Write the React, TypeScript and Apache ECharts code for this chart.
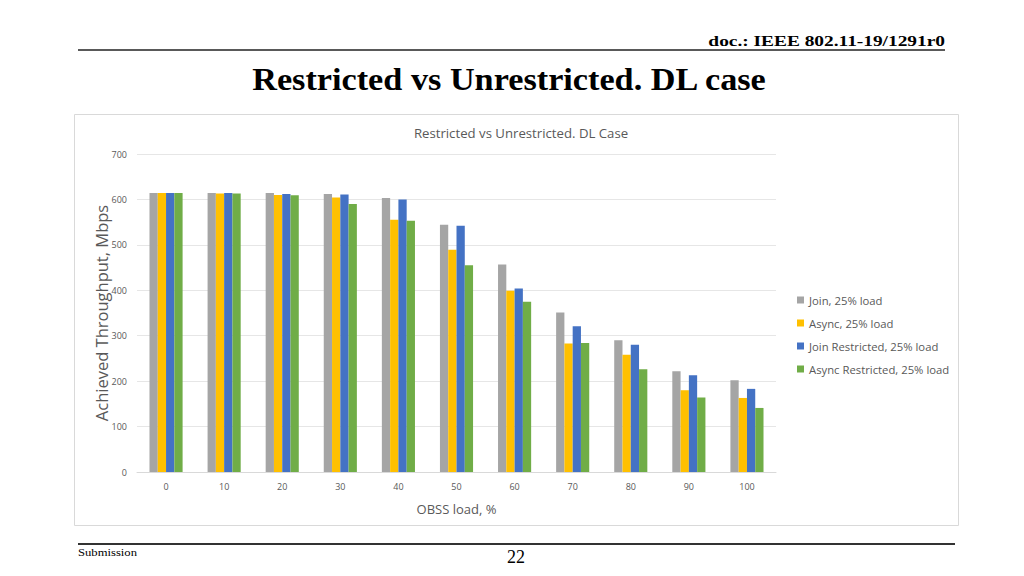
import React, { useEffect, useRef } from "react";
import * as echarts from "echarts";

const categories = ["0", "10", "20", "30", "40", "50", "60", "70", "80", "90", "100"];
const joinLoad = [614, 614, 614, 612, 603, 544, 457, 351, 290, 222, 202];
const asyncLoad = [614, 613, 610, 604, 555, 489, 399, 283, 258, 180, 163];
const joinRestricted = [614, 614, 612, 611, 600, 542, 404, 321, 280, 213, 183];
const asyncRestricted = [614, 613, 609, 590, 553, 455, 375, 284, 226, 164, 141];
const seriesNames = ["Join, 25% load", "Async, 25% load", "Join Restricted, 25% load", "Async Restricted, 25% load"];
const seriesColors = ["#A5A5A5", "#FFC000", "#4472C4", "#70AD47"];

export default function App() {
  const ref = useRef<HTMLDivElement>(null);
  useEffect(() => {
    if (!ref.current) return;
    const chart = echarts.init(ref.current, null, { renderer: "svg" });
    const font = "Open Sans";
    const data = [joinLoad, asyncLoad, joinRestricted, asyncRestricted];
    chart.setOption({
      animation: false,
      backgroundColor: "#ffffff",
      title: {
        text: "Restricted vs Unrestricted. DL Case",
        left: 516,
        top: 121,
        textAlign: "center",
        textStyle: { fontFamily: font, fontSize: 13.2, fontWeight: "normal", color: "#595959" },
      },
      legend: {
        orient: "vertical",
        left: 792,
        top: 288,
        itemGap: 9,
        itemWidth: 7,
        itemHeight: 7,
        icon: "rect",
        data: seriesNames,
        textStyle: { fontFamily: font, fontSize: 11.3, lineHeight: 14, color: "#595959", padding: [0, 0, 0, 0] },
      },
      grid: { left: 137, right: 248, top: 154, bottom: 104 },
      xAxis: {
        type: "category",
        data: categories,
        name: "OBSS load, %",
        nameLocation: "middle",
        nameGap: 30,
        nameTextStyle: { fontFamily: font, fontSize: 13, color: "#595959" },
        axisLine: { lineStyle: { color: "#d9d9d9" } },
        axisTick: { show: false },
        axisLabel: { fontFamily: font, fontSize: 9, color: "#595959", margin: 10 },
      },
      yAxis: {
        type: "value",
        min: 0,
        max: 700,
        interval: 100,
        name: "Achieved Throughput, Mbps",
        nameLocation: "middle",
        nameGap: 27,
        nameMoveOverlap: false,
        nameTextStyle: { fontFamily: font, fontSize: 16.5, color: "#595959" },
        axisLine: { show: false },
        axisTick: { show: false },
        axisLabel: { fontFamily: font, fontSize: 9, color: "#595959", margin: 10 },
        splitLine: { lineStyle: { color: "#e6e6e6" } },
      },
      series: seriesNames.map((name, i) => ({
        name,
        type: "bar",
        data: data[i],
        barGap: "0%",
        barCategoryGap: "43%",
        itemStyle: { color: seriesColors[i] },
      })),
      graphic: [
        {
          type: "rect",
          shape: { x: 74.5, y: 114.5, width: 884, height: 411 },
          style: { fill: "none", stroke: "#d9d9d9", lineWidth: 1 },
          z: -1,
        },
        {
          type: "text",
          x: 945,
          y: 41,
          scaleX: 1.25,
          style: {
            text: "doc.: IEEE 802.11-19/1291r0",
            fontFamily: "Liberation Serif",
            fontWeight: "bold",
            fontSize: 15.5,
            fill: "#000",
            align: "right",
            verticalAlign: "middle",
          },
        },
        {
          type: "line",
          shape: { x1: 78, y1: 50, x2: 945, y2: 50 },
          style: { stroke: "#222", lineWidth: 1.5 },
        },
        {
          type: "text",
          x: 509,
          y: 79,
          scaleX: 1.07,
          style: {
            text: "Restricted vs Unrestricted. DL case",
            fontFamily: "Liberation Serif",
            fontWeight: "bold",
            fontSize: 32,
            fill: "#000",
            align: "center",
            verticalAlign: "middle",
          },
        },
        {
          type: "line",
          shape: { x1: 78, y1: 544, x2: 955, y2: 544 },
          style: { stroke: "#333", lineWidth: 2 },
        },
        {
          type: "text",
          x: 78,
          y: 552,
          scaleX: 1.15,
          style: {
            text: "Submission",
            fontFamily: "Liberation Serif",
            fontSize: 11,
            fill: "#000",
            align: "left",
            verticalAlign: "middle",
          },
        },
        {
          type: "text",
          x: 516,
          y: 557,
          style: {
            text: "22",
            fontFamily: "Liberation Serif",
            fontSize: 18,
            fill: "#000",
            align: "center",
            verticalAlign: "middle",
          },
        },
      ],
    });
    return () => chart.dispose();
  }, []);
  return (
    <div
      ref={ref}
      style={{ position: "fixed", left: 0, top: 0, width: 1024, height: 576, background: "#fff" }}
    />
  );
}
